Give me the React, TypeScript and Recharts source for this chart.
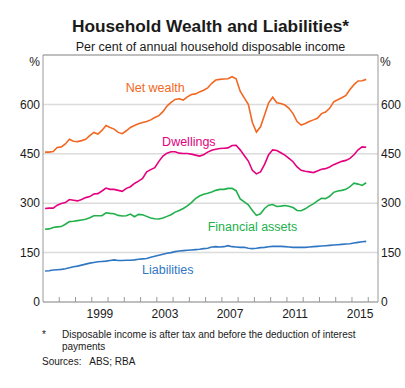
import React from 'react';
import { LineChart, Line, XAxis, YAxis, CartesianGrid, ReferenceLine, ReferenceDot } from 'recharts';

const FONT = '"Liberation Sans", Arial, sans-serif';

// quarterly observations, Mar-1996 to Dec-2015
const years = [1996, 1997, 1998, 1999, 2000, 2001, 2002, 2003, 2004, 2005, 2006, 2007, 2008, 2009, 2010, 2011, 2012, 2013, 2014, 2015];
const quarters = [1, 2, 3, 4];

const netWealth = [
  455, 455, 457, 469, 471, 480, 494, 488, 487, 490,
  494, 505, 515, 510, 521, 536, 530, 525, 515, 511,
  520, 530, 536, 541, 545, 548, 553, 560, 566, 578,
  595, 606, 615, 617, 613, 623, 630, 632, 638, 643,
  650, 664, 674, 676, 677, 678, 684, 678, 640, 620,
  600, 545, 516, 532, 568, 605, 622, 605, 603, 598,
  588, 572, 548, 537, 542, 548, 553, 558, 572, 577,
  588, 608, 614, 620, 627, 645, 660, 671, 672, 676,
];
const dwellings = [
  284, 285, 285, 294, 299, 302, 311, 309, 307, 311,
  317, 320, 328, 329, 337, 346, 342, 342, 339, 336,
  345, 350, 360, 367, 375, 395, 402, 408, 427, 443,
  452, 456, 456, 452, 451, 451, 449, 446, 443, 447,
  455, 461, 464, 466, 467, 468, 475, 476, 462, 445,
  428, 400, 389, 395, 418, 447, 462, 460, 453, 446,
  436, 426, 410, 400, 397, 395, 393, 398, 403, 405,
  410, 417, 422, 427, 430, 436, 447, 462, 471, 470,
];
const financialAssets = [
  221, 222, 226, 228, 229, 236, 244, 245, 247, 249,
  251, 256, 262, 262, 262, 271, 269, 268, 263, 261,
  262, 267, 259, 266, 265, 260, 255, 253, 252, 255,
  260, 265, 273, 278, 284, 292, 302, 314, 322, 327,
  330, 334, 339, 342, 342, 345, 345, 338, 313, 304,
  295, 278, 263, 268, 284, 294, 296, 290, 291, 293,
  291, 287, 278, 277, 283, 291, 298, 307, 315, 314,
  321, 333, 337, 339, 342, 350, 361, 358, 354, 362,
];
const liabilities = [
  94, 95, 97, 98, 99, 101, 104, 107, 109, 112,
  115, 118, 120, 122, 123, 124, 126, 128, 126, 126,
  127, 127, 128, 130, 131, 132, 136, 139, 142, 145,
  148, 150, 153, 155, 156, 157, 158, 159, 160, 162,
  163, 167, 168, 167, 168, 171, 168, 167, 166, 166,
  163, 162, 163, 165, 166, 168, 169, 169, 169, 168,
  167, 166, 166, 166, 166, 167, 168, 169, 170, 171,
  172, 173, 174, 175, 176, 177, 179, 181, 183, 184,
];

const yTicks = [0, 150, 300, 450, 600];
const yearTicks = [1997, 1998, 1999, 2000, 2001, 2002, 2003, 2004, 2005, 2006, 2007, 2008, 2009, 2010, 2011, 2012, 2013, 2014, 2015, 2016];
const yearLabels = [1999, 2003, 2007, 2011, 2015];

const periods = years.flatMap((y) => quarters.map((q) => ({ year: y, q })));
const data = periods.map((p, i) => ({
  t: p.year + (p.q - 0.5) / 4,
  netWealth: netWealth[i],
  dwellings: dwellings[i],
  financialAssets: financialAssets[i],
  liabilities: liabilities[i],
}));

// both y axes share the same 0-750 scale; each carries two of the series
const series = [
  { key: 'netWealth', name: 'Net wealth', color: '#F26722', axis: 'left', at: [2002.9, 652] },
  { key: 'dwellings', name: 'Dwellings', color: '#E4007F', axis: 'left', at: [2004.97, 486] },
  { key: 'financialAssets', name: 'Financial assets', color: '#21B04B', axis: 'right', at: [2008.88, 230] },
  { key: 'liabilities', name: 'Liabilities', color: '#2F76C3', axis: 'right', at: [2003.67, 99] },
];

const tickStyle = { fontSize: 12, fill: '#1a1a1a', fontFamily: FONT };

// year boundaries get a short inward tick, mid-year positions get the label
const YearTick = (props: any) => {
  const { x, y, payload } = props;
  const v = payload.value;
  if (Number.isInteger(v)) {
    return <line x1={x} x2={x} y1={y} y2={y - 5} stroke="#999" strokeWidth={1} />;
  }
  return (
    <text x={x} y={y + 7} dy="0.71em" textAnchor="middle" {...tickStyle}>
      {Math.floor(v)}
    </text>
  );
};

export default function App() {
  const xTicks = [...yearTicks, ...yearLabels.map((y) => y + 0.5)].sort((a, b) => a - b);
  return (
    <div style={{ position: 'absolute', left: 0, top: 0, width: 405, height: 388, background: '#fff', fontFamily: FONT, color: '#1a1a1a' }}>
      <div style={{ position: 'absolute', left: 43, width: 335, top: 16, lineHeight: '21px', fontSize: 17.3, fontWeight: 700, textAlign: 'center' }}>
        Household Wealth and Liabilities*
      </div>
      <div style={{ position: 'absolute', left: 43, width: 335, top: 38.5, lineHeight: '16px', fontSize: 12.5, textAlign: 'center' }}>
        Per cent of annual household disposable income
      </div>
      <div style={{ position: 'absolute', left: 20, width: 20, top: 55, lineHeight: '14px', fontSize: 12, textAlign: 'right' }}>%</div>
      <div style={{ position: 'absolute', left: 380, top: 55, lineHeight: '14px', fontSize: 12 }}>%</div>

      <LineChart width={405} height={388} data={data} margin={{ top: 55, right: 0, left: 0, bottom: 0 }}>
        <CartesianGrid yAxisId="left" vertical={false} stroke="#DCDCDC" strokeWidth={1.5} />
        <XAxis
          dataKey="t"
          type="number"
          domain={[1996, 2016.6]}
          allowDataOverflow
          ticks={xTicks}
          interval={0}
          height={86}
          tickSize={0}
          tickMargin={0}
          axisLine={{ stroke: '#999' }}
          tickLine={false}
          tick={<YearTick />}
        />
        <YAxis
          yAxisId="left"
          domain={[0, 750]}
          ticks={yTicks}
          interval={0}
          width={43}
          tickSize={0}
          tickMargin={3}
          axisLine={{ stroke: '#999' }}
          tickLine={false}
          tick={tickStyle}
        />
        <YAxis
          yAxisId="right"
          orientation="right"
          domain={[0, 750]}
          ticks={yTicks}
          interval={0}
          width={27}
          tickSize={0}
          tickMargin={3}
          axisLine={{ stroke: '#999' }}
          tickLine={false}
          tick={tickStyle}
        />
        <ReferenceLine yAxisId="left" y={750} stroke="#999" />
        {series.map((s) => (
          <Line
            key={s.key}
            yAxisId={s.axis}
            dataKey={s.key}
            stroke={s.color}
            strokeWidth={1.6}
            dot={false}
            type="linear"
            isAnimationActive={false}
          />
        ))}
        {series.map((s) => (
          <ReferenceDot
            key={s.key + '-label'}
            yAxisId="left"
            x={s.at[0]}
            y={s.at[1]}
            r={0}
            stroke="none"
            fill="none"
            label={{ value: s.name, position: 'center', fill: s.color, fontSize: 12.5, fontFamily: FONT }}
          />
        ))}
      </LineChart>

      <div style={{ position: 'absolute', left: 42, top: 329, fontSize: 10, lineHeight: '11.7px' }}>*</div>
      <div style={{ position: 'absolute', left: 62, top: 329, width: 320, fontSize: 10, lineHeight: '11.7px' }}>
        Disposable income is after tax and before the deduction of interest payments
      </div>
      <div style={{ position: 'absolute', left: 42, top: 356, fontSize: 10, lineHeight: '11.7px', whiteSpace: 'pre' }}>
        {'Sources:   ABS; RBA'}
      </div>
    </div>
  );
}
